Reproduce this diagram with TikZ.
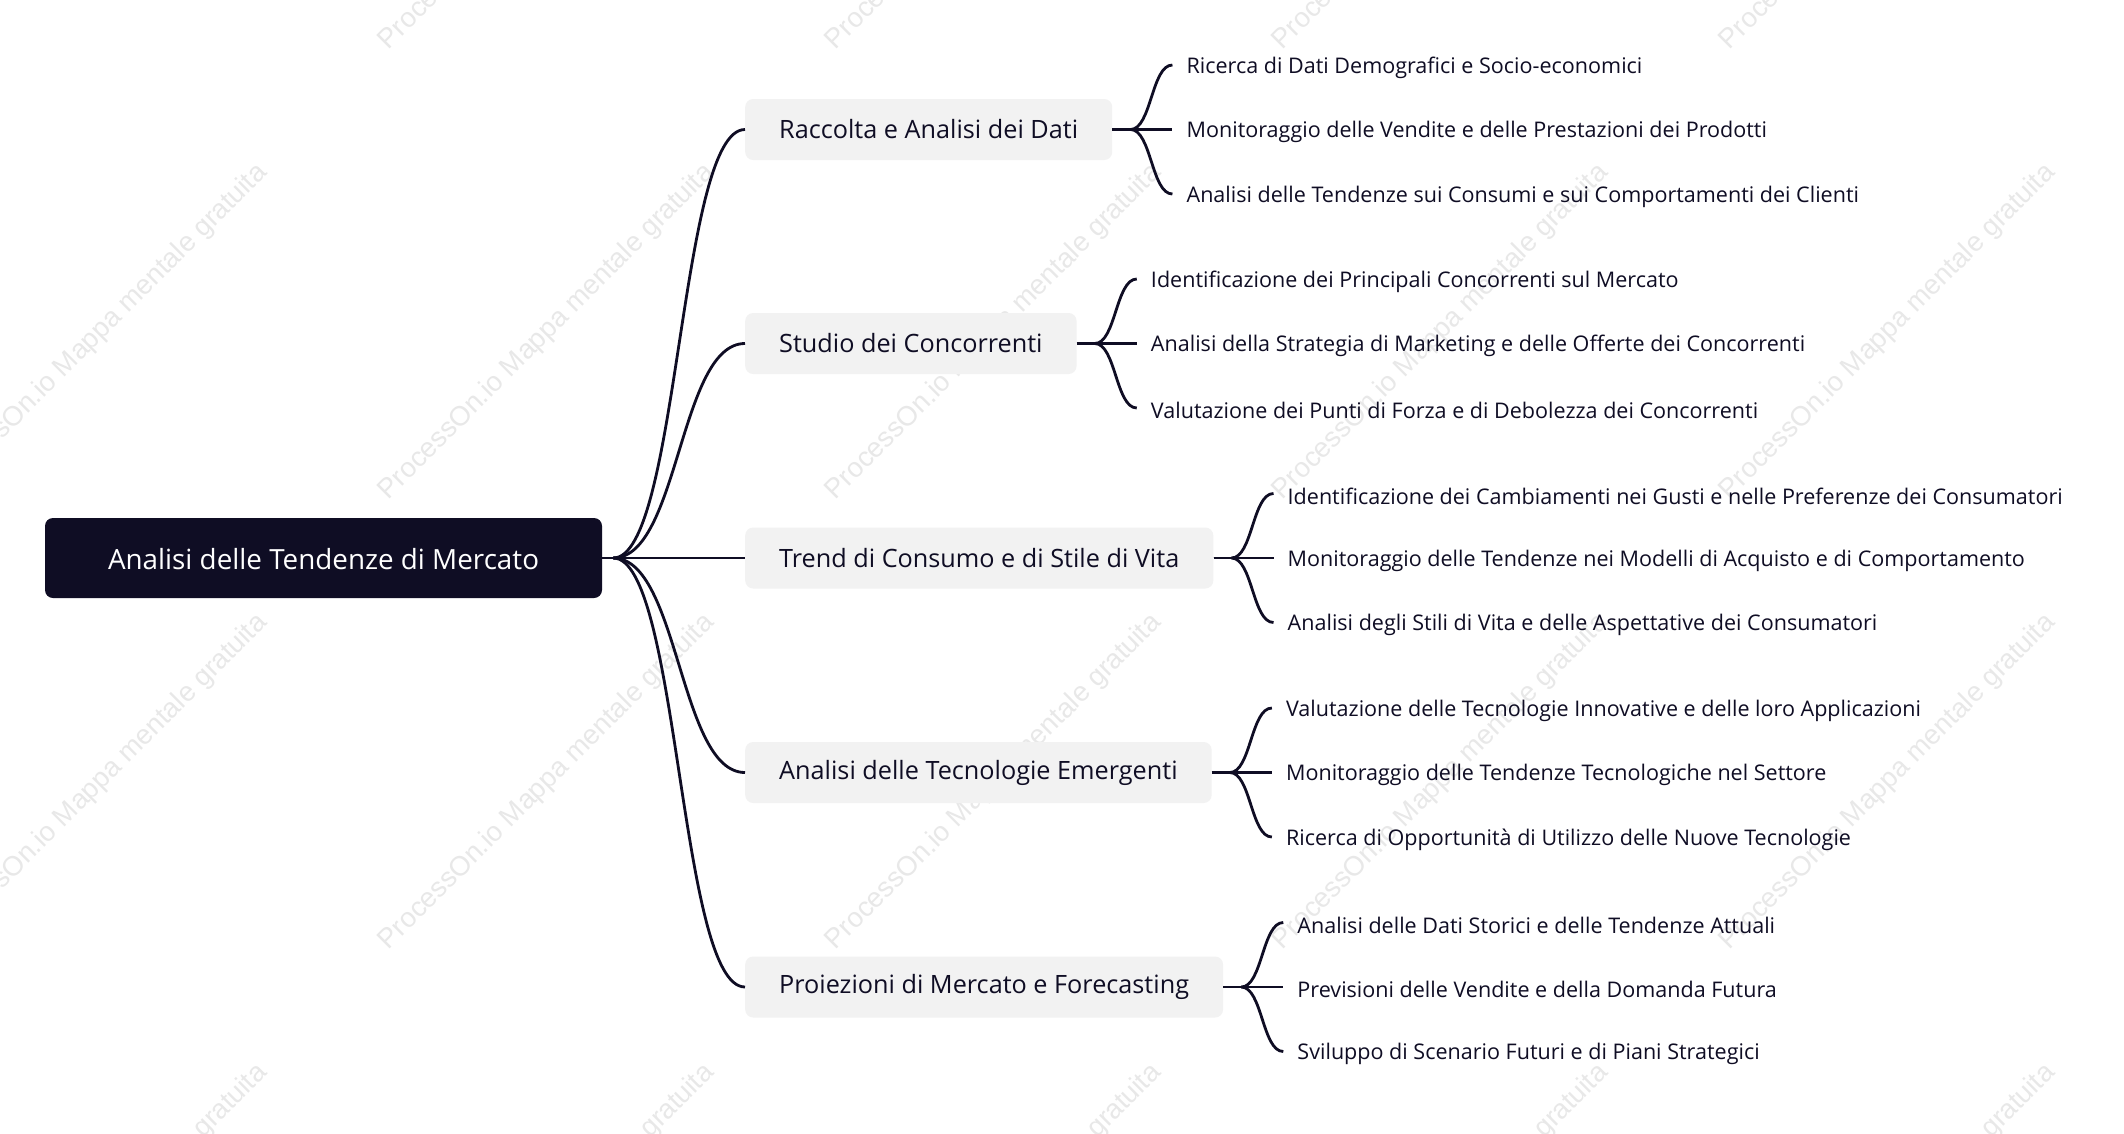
\documentclass[tikz,border=0pt]{standalone}
\usepackage{fontspec}
\setmainfont{Open Sans}
\newfontfamily\wmfont{Liberation Sans}
\usetikzlibrary{calc}
\definecolor{navy}{RGB}{15,13,36}
\definecolor{boxgray}{RGB}{242,242,242}
\definecolor{wmgray}{RGB}{232,232,232}
\newlength\fitw
\newcommand\fitfont[3]{\setbox0\hbox{\normalfont\fontsize{10pt}{12pt}\selectfont #3}\fitw=\wd0\relax\pgfmathsetmacro#1{#2/\fitw*10}}
\newcommand\dn[1]{\raisebox{-2.7pt}[\height][\depth]{#1}}
\newcommand\conn[3]{%
  \draw[link] (#1.east) -- ([xshift=#3]#1.east) coordinate (s);
  \path (s) -- (#2.west) coordinate[pos=0.5] (m);
  \draw[link] (s) .. controls (m |- s) and (m |- #2.west) .. (#2.west);}
\tikzset{
  rootbox/.style={fill=navy, rounded corners=8pt, minimum width=557pt, minimum height=80pt,
    inner sep=0pt, text=white, font=\fontsize{\rootfs pt}{\rootfs pt}\selectfont},
  branchbox/.style={fill=boxgray, rounded corners=8pt, minimum height=61pt, inner xsep=34pt,
    inner ysep=0pt, text=navy, anchor=west, font=\fontsize{\branchfs pt}{\branchfs pt}\selectfont},
  leafbox/.style={text=navy, anchor=west, inner xsep=14pt, inner ysep=0pt,
    font=\fontsize{\leaffs pt}{\leaffs pt}\selectfont},
  link/.style={draw=navy, line width=2.8pt},
  wmark/.style={rotate=45, text=wmgray, inner sep=0pt, font=\wmfont\fontsize{27.5pt}{30pt}\selectfont}
}
\begin{document}
\fitfont\rootfs{431}{Analisi delle Tendenze di Mercato}%
\fitfont\branchfs{299}{Raccolta e Analisi dei Dati}%
\fitfont\leaffs{775}{Identificazione dei Cambiamenti nei Gusti e nelle Preferenze dei Consumatori}%
\begin{tikzpicture}[x=1pt,y=-1pt]
\useasboundingbox (0,0) rectangle (2124,1133);
\fill[white] (0,0) rectangle (2124,1133);
\begin{scope}
\clip (0,0) rectangle (2124,1133);
\foreach \x in {100,547,994,1441,1888}
  \foreach \y in {-118,332,782,1232}
    \node[wmark] (w-\x-\y) at (\x,\y) {ProcessOn.io Mappa mentale gratuita};
\end{scope}
% root
\node[rootbox] (root) at (323.5,558) {\raisebox{-1pt}[\height][\depth]{Analisi delle Tendenze di Mercato}};
% branches
\node[branchbox] (b1) at (745,129.5) {Raccolta e Analisi dei Dati};
\node[branchbox] (b2) at (745,343.5) {Studio dei Concorrenti};
\node[branchbox] (b3) at (745,558) {Trend di Consumo e di Stile di Vita};
\node[branchbox] (b4) at (745,772.5) {Analisi delle Tecnologie Emergenti};
\node[branchbox] (b5) at (745,987) {Proiezioni di Mercato e Forecasting};
% leaves
\node[leafbox] (l11) at ($(b1.east)+(60,-64.5)$) {\dn{Ricerca di Dati Demografici e Socio-economici}};
\node[leafbox] (l12) at ($(b1.east)+(60,0)$) {\dn{Monitoraggio delle Vendite e delle Prestazioni dei Prodotti}};
\node[leafbox] (l13) at ($(b1.east)+(60,64.5)$) {\dn{Analisi delle Tendenze sui Consumi e sui Comportamenti dei Clienti}};
\node[leafbox] (l21) at ($(b2.east)+(60,-64.5)$) {\dn{Identificazione dei Principali Concorrenti sul Mercato}};
\node[leafbox] (l22) at ($(b2.east)+(60,0)$) {\dn{Analisi della Strategia di Marketing e delle Offerte dei Concorrenti}};
\node[leafbox] (l23) at ($(b2.east)+(60,64.5)$) {\dn{Valutazione dei Punti di Forza e di Debolezza dei Concorrenti}};
\node[leafbox] (l31) at ($(b3.east)+(60,-64.5)$) {\dn{Identificazione dei Cambiamenti nei Gusti e nelle Preferenze dei Consumatori}};
\node[leafbox] (l32) at ($(b3.east)+(60,0)$) {\dn{Monitoraggio delle Tendenze nei Modelli di Acquisto e di Comportamento}};
\node[leafbox] (l33) at ($(b3.east)+(60,64.5)$) {\dn{Analisi degli Stili di Vita e delle Aspettative dei Consumatori}};
\node[leafbox] (l41) at ($(b4.east)+(60,-64.5)$) {\dn{Valutazione delle Tecnologie Innovative e delle loro Applicazioni}};
\node[leafbox] (l42) at ($(b4.east)+(60,0)$) {\dn{Monitoraggio delle Tendenze Tecnologiche nel Settore}};
\node[leafbox] (l43) at ($(b4.east)+(60,64.5)$) {\dn{Ricerca di Opportunità di Utilizzo delle Nuove Tecnologie}};
\node[leafbox] (l51) at ($(b5.east)+(60,-64.5)$) {\dn{Analisi delle Dati Storici e delle Tendenze Attuali}};
\node[leafbox] (l52) at ($(b5.east)+(60,0)$) {\dn{Previsioni delle Vendite e della Domanda Futura}};
\node[leafbox] (l53) at ($(b5.east)+(60,64.5)$) {\dn{Sviluppo di Scenario Futuri e di Piani Strategici}};
% connectors
\foreach \b in {b1,b2,b3,b4,b5} {\conn{root}{\b}{11pt}}
\foreach \i in {1,2,3,4,5} {
  \foreach \j in {1,2,3} {\conn{b\i}{l\i\j}{18pt}}
}
\end{tikzpicture}
\end{document}
